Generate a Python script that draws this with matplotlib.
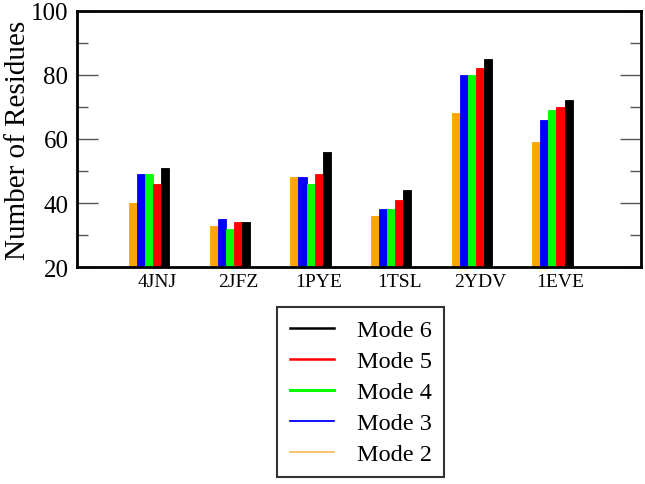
import matplotlib
matplotlib.use("Agg")
import matplotlib.pyplot as plt
from matplotlib.lines import Line2D
import numpy as np

categories = ["4JNJ", "2JFZ", "1PYE", "1TSL", "2YDV", "1EVE"]
mode2 = [40, 33, 48, 36, 68, 59]
mode3 = [49, 35, 48, 38, 80, 66]
mode4 = [49, 32, 46, 38, 80, 69]
mode5 = [46, 34, 49, 41, 82, 70]
mode6 = [51, 34, 56, 44, 85, 72]
series_names = ["Mode 2", "Mode 3", "Mode 4", "Mode 5", "Mode 6"]
colors = ["#FFA500", "#0000FF", "#00FF00", "#FF0000", "#000000"]

plt.rcParams["font.family"] = ["Liberation Serif", "DejaVu Serif"]
fig = plt.figure(figsize=(6.45, 4.85), dpi=100)
ax = fig.add_axes([0.119, 0.447, 0.875, 0.529])

x = np.arange(1, len(categories) + 1)
w = 0.1
offsets = [-0.3, -0.2, -0.1, 0.0, 0.1]
for vals, off, c in zip([mode2, mode3, mode4, mode5, mode6], offsets, colors):
    ax.bar(x + off, vals, width=w, color=c, edgecolor=c, linewidth=0.6, zorder=2)

ax.set_xlim(0, 7)
ax.set_ylim(20, 100)
ax.set_xticks(x)
ax.set_xticklabels(categories, fontsize=14)
ax.tick_params(axis="x", length=0, pad=4)
ax.set_yticks([20, 40, 60, 80, 100])
ax.set_yticks([30, 50, 70, 90], minor=True)
ax.tick_params(axis="y", which="major", direction="in", length=15, width=1,
               color="#555555", labelsize=18, right=True, pad=6)
ax.tick_params(axis="y", which="minor", direction="in", length=8, width=1,
               color="#555555", right=True)
for s in ax.spines.values():
    s.set_linewidth(2)
    s.set_zorder(3)
ax.set_ylabel("Number of Residues", fontsize=21, va="center")
ax.yaxis.set_label_coords(-0.1045, 0.5)

handles = [
    Line2D([], [], color="#000000", lw=1.8),
    Line2D([], [], color="#FF0000", lw=1.8),
    Line2D([], [], color="#00FF00", lw=2.2),
    Line2D([], [], color="#0000FF", lw=1.3),
    Line2D([], [], color="#F5C060", lw=1.3),
]
labels = ["Mode 6", "Mode 5", "Mode 4", "Mode 3", "Mode 2"]
leg = fig.legend(handles, labels, loc="upper left", bbox_to_anchor=(0.43, 0.365),
                 fontsize=17.5, frameon=True, fancybox=False, edgecolor="black",
                 handlelength=1.85, handletextpad=0.93, borderpad=0.5,
                 labelspacing=0.37, borderaxespad=0)
leg.get_frame().set_linewidth(1.5)

fig.savefig("out.png", dpi=100)
